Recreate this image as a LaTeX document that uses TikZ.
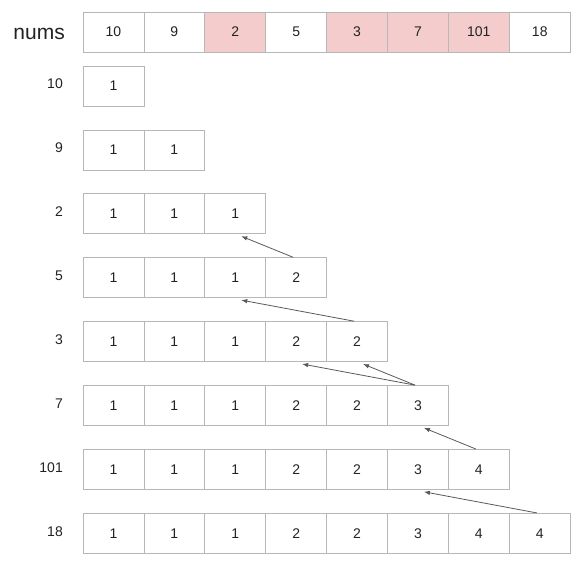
\documentclass[tikz,border=0pt]{standalone}
\usepackage{fontspec}
\setmainfont{Liberation Sans}
\usepackage{tikz}
\usetikzlibrary{arrows.meta}
\definecolor{cellline}{HTML}{B7B7B7}
\definecolor{cellpink}{HTML}{F4CCCC}
\definecolor{inktext}{HTML}{222222}
\definecolor{arrowgray}{HTML}{595959}

\begin{document}
\begin{tikzpicture}[x=1pt, y=-1pt,
  cell/.style={draw=cellline, line width=0.8pt, minimum width=60.9pt, minimum height=40pt, inner sep=0pt, font=\fontsize{14}{14}\selectfont, text=inktext},
  rowlabel/.style={anchor=east, inner sep=0pt, font=\fontsize{14}{14}\selectfont, text=inktext},
  link/.style={-{Latex[length=6pt, width=4.5pt]}, draw=arrowgray, line width=0.8pt}]
\useasboundingbox (0,0) rectangle (576,571);

% input array
\node[rowlabel, font=\fontsize{21}{21}\selectfont] (nums) at (65,34) {nums};
\foreach \v/\f [count=\i] in {10/white, 9/white, 2/cellpink, 5/white, 3/cellpink, 7/cellpink, 101/cellpink, 18/white}
  \node[cell, fill=\f] (n\i) at ({83+(\i-0.5)*60.9}, 32) {\v};

% dp rows
\foreach \lab [count=\r] in {10, 9, 2, 5, 3, 7, 101, 18} {
  \node[rowlabel] (lab\r) at (63, {86+(\r-1)*63.9-2}) {\lab};
  \foreach \v [count=\c] in {1, 1, 1, 2, 2, 3, 4, 4} {
    \ifnum\c>\r\else
      \node[cell] (dp\r\c) at ({83+(\c-0.5)*60.9}, {86+(\r-1)*63.9}) {\v};
    \fi
  }
}

% links to the previous length
\draw[link] ([xshift=-3pt]dp44.north) -- ([shift={(6,2)}]dp33.south);
\draw[link] ([xshift=-3pt]dp55.north) -- ([shift={(6,2)}]dp43.south);
\draw[link] ([xshift=-3pt]dp66.north) -- ([shift={(6,2)}]dp54.south);
\draw[link] ([xshift=-3pt]dp66.north) -- ([shift={(6,2)}]dp55.south);
\draw[link] ([xshift=-3pt]dp77.north) -- ([shift={(6,2)}]dp66.south);
\draw[link] ([xshift=-3pt]dp88.north) -- ([shift={(6,2)}]dp76.south);
\end{tikzpicture}
\end{document}
